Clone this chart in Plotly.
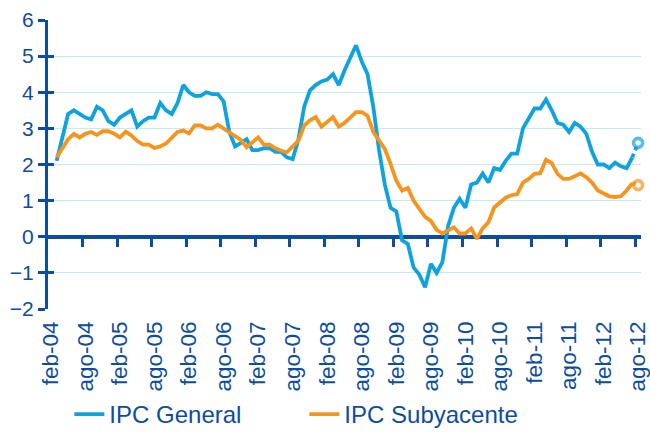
import plotly.graph_objects as go

# ---- data (annual % change), categories feb-04 .. ago-12 ----
month_names = ["ene", "feb", "mar", "abr", "may", "jun",
               "jul", "ago", "sep", "oct", "nov", "dic"]
categories = []
for yr in range(2004, 2013):
    for m in range(12):
        if (yr == 2004 and m < 1) or (yr == 2012 and m > 7):
            continue
        categories.append(f"{month_names[m]}-{str(yr)[2:]}")

# series start at mar-04 (second category)
ipc_general = [
    2.1, 2.7, 3.4, 3.5, 3.4, 3.3, 3.25, 3.6, 3.5, 3.2,                      # 2004 mar-dic
    3.1, 3.3, 3.4, 3.5, 3.05, 3.2, 3.3, 3.3, 3.7, 3.5, 3.4, 3.7,            # 2005
    4.2, 4.0, 3.9, 3.9, 4.0, 3.95, 3.95, 3.75, 2.9, 2.5, 2.6, 2.7,          # 2006
    2.4, 2.4, 2.45, 2.45, 2.35, 2.35, 2.2, 2.15, 2.7, 3.6, 4.05, 4.2,       # 2007
    4.3, 4.35, 4.5, 4.2, 4.6, 4.95, 5.3, 4.85, 4.5, 3.6, 2.4, 1.45,         # 2008
    0.8, 0.7, -0.1, -0.2, -0.85, -1.05, -1.4, -0.75, -1.0, -0.7, 0.3, 0.8,  # 2009
    1.05, 0.8, 1.45, 1.5, 1.75, 1.5, 1.9, 1.85, 2.1, 2.3, 2.3, 3.0,         # 2010
    3.3, 3.55, 3.55, 3.8, 3.5, 3.15, 3.1, 2.9, 3.15, 3.05, 2.85, 2.35,      # 2011
    2.0, 2.0, 1.9, 2.05, 1.95, 1.9, 2.2, 2.6,                               # 2012 ene-ago
]
ipc_subyacente = [
    2.2, 2.45, 2.7, 2.85, 2.75, 2.85, 2.9, 2.82, 2.92, 2.92,                 # 2004 mar-dic
    2.85, 2.75, 2.91, 2.8, 2.65, 2.55, 2.55, 2.46, 2.5, 2.58, 2.75, 2.9,     # 2005
    2.94, 2.86, 3.08, 3.08, 3.0, 3.0, 3.1, 2.99, 2.9, 2.78, 2.68, 2.48,      # 2006
    2.62, 2.75, 2.55, 2.55, 2.45, 2.38, 2.34, 2.5, 2.66, 3.08, 3.22, 3.31,   # 2007
    3.05, 3.18, 3.31, 3.05, 3.15, 3.3, 3.45, 3.45, 3.35, 2.9, 2.66, 2.43,    # 2008
    2.02, 1.55, 1.28, 1.35, 1.0, 0.77, 0.55, 0.44, 0.19, 0.09, 0.18, 0.26,   # 2009
    0.09, 0.09, 0.23, -0.06, 0.23, 0.4, 0.81, 0.95, 1.08, 1.15, 1.18, 1.5,   # 2010
    1.6, 1.74, 1.76, 2.13, 2.04, 1.74, 1.6, 1.6, 1.68, 1.75, 1.65, 1.5,      # 2011
    1.28, 1.2, 1.12, 1.1, 1.12, 1.28, 1.48, 1.43,                            # 2012 ene-ago
]
y_ticks = [-2, -1, 0, 1, 2, 3, 4, 5, 6]

# ---- styling ----
BLUE = "#0ea2de"
ORANGE = "#f7941d"
NAVY = "#0d4d9f"
GRID = "#c9e8f6"
FONT = "Liberation Sans, Arial, sans-serif"

n_cat = len(categories)
x_all = list(range(n_cat))
x_series = x_all[n_cat - len(ipc_general):]
label_vals = x_all[::6]
label_text = [categories[i] for i in label_vals]
boundary_ticks = [i + 5.5 for i in range(0, n_cat - 1, 6)]

fig = go.Figure()

for name, vals, col in [("IPC General", ipc_general, BLUE),
                        ("IPC Subyacente", ipc_subyacente, ORANGE)]:
    fig.add_trace(go.Scatter(
        x=x_series[:-1], y=vals[:-1], name=name, mode="lines",
        line=dict(color=col, width=3.8), legendgroup=name,
        hoverinfo="skip"))
    fig.add_trace(go.Scatter(
        x=x_series[-2:], y=vals[-2:], mode="lines+markers",
        line=dict(color=col, width=3.8, dash="dot"),
        marker=dict(size=[0, 9], color="white",
                    line=dict(color=col, width=3.6)),
        cliponaxis=False,
        showlegend=False, legendgroup=name, hoverinfo="skip"))

# helper trace so the overlay tick axes get drawn
fig.add_trace(go.Scatter(x=[None], y=[None], xaxis="x2", yaxis="y2",
                         mode="lines", showlegend=False, hoverinfo="skip"))

fig.update_layout(
    width=650, height=433,
    margin=dict(l=48, r=9, t=20, b=124, autoexpand=False),
    paper_bgcolor="white", plot_bgcolor="white",
    font=dict(family=FONT, color=NAVY),
    showlegend=True,
    legend=dict(orientation="h", x=0.036, xanchor="left",
                y=-0.365, yanchor="middle",
                font=dict(size=24, color=NAVY),
                entrywidth=190, entrywidthmode="pixels",
                bgcolor="rgba(0,0,0,0)"),
    xaxis=dict(range=[-0.5, n_cat - 0.5], tickvals=label_vals,
               ticktext=label_text, tickangle=-90,
               tickfont=dict(size=22.5, color=NAVY),
               ticklabeloverflow="allow", ticklabelstandoff=7,
               showgrid=False, showline=False, zeroline=False, ticks="",
               layer="below traces"),
    xaxis2=dict(overlaying="x", anchor="free", position=0.25,
                range=[-0.5, n_cat - 0.5], tickvals=boundary_ticks,
                ticks="outside", ticklen=9, tickwidth=2.5, tickcolor=NAVY,
                showticklabels=False, showgrid=False, showline=False,
                zeroline=False, layer="below traces"),
    yaxis=dict(range=[-2, 6], tickvals=y_ticks,
               tickfont=dict(size=21, color=NAVY),
               showgrid=True, gridcolor=GRID, gridwidth=1,
               showline=True, linecolor=NAVY, linewidth=3,
               ticks="outside", ticklen=7, tickwidth=3, tickcolor=NAVY,
               zeroline=True, zerolinecolor=NAVY, zerolinewidth=3.5,
               layer="below traces"),
    yaxis2=dict(overlaying="y", anchor="x", side="left",
                range=[-2, 6], tickvals=y_ticks,
                ticks="inside", ticklen=6, tickwidth=3, tickcolor=NAVY,
                showticklabels=False, showgrid=False, showline=False,
                zeroline=False, layer="below traces"),
)

fig.write_html("out.html",
               config={"displayModeBar": False},
               post_script="document.body.style.margin='0';"
                           "document.body.style.overflow='hidden';")
